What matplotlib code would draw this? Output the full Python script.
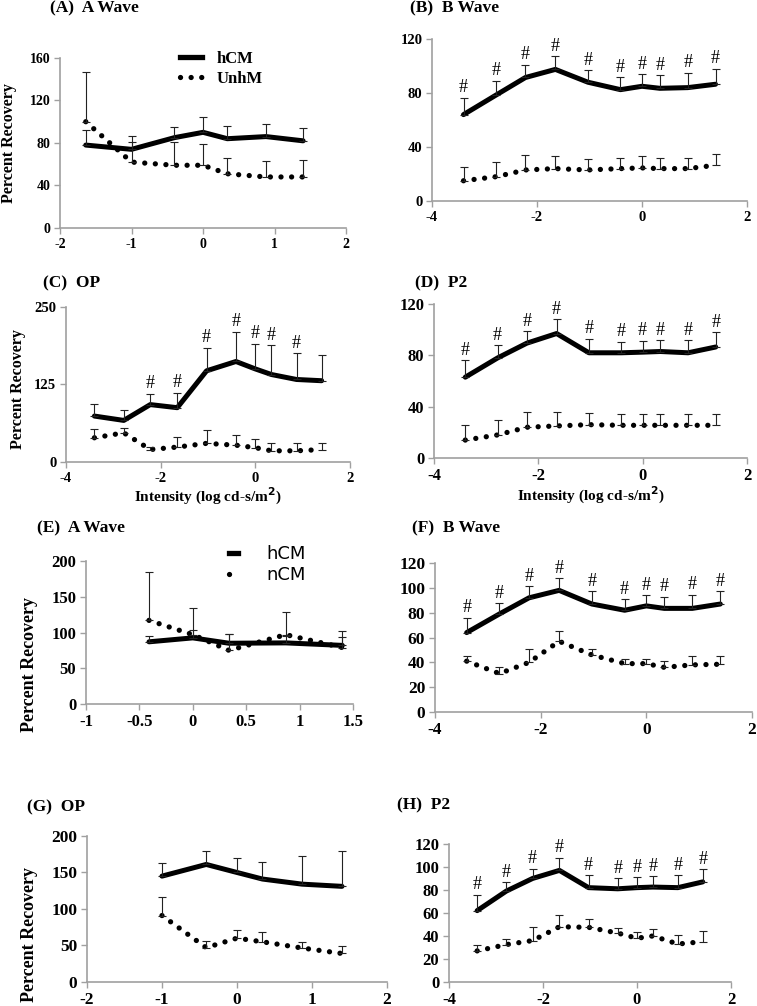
import numpy as np
import matplotlib
matplotlib.use('Agg')
import matplotlib.pyplot as plt
from matplotlib.lines import Line2D

plt.rcParams['font.family'] = 'Liberation Serif'
plt.rcParams['font.weight'] = 'bold'

# ---- data ----
# x positions (log cd-s/m^2)
x_full = [-3.4, -2.78, -2.22, -1.65, -1.03, -0.41, 0.0, 0.34, 0.87, 1.4]
x_short = [-0.41, 0.0, 0.34, 0.87, 1.4]
x_a = [-1.64, -1.0, -0.4, 0.0, 0.34, 0.88, 1.4]
x_g = [-1.0, -0.41, 0.0, 0.34, 0.87, 1.4]

# (A) A Wave, hCM vs UnhM
a_hcm = [78, 74, 85, 90, 84, 86, 82]
a_hcm_top = [92, 87, 95, 104, 96, 98, 94]
a_unhm = [100, 62, 59, 59, 51, 48, 48]
a_unhm_top = [147, 81, 81, 79, 66, 63, 64]

# (B) B Wave
b_hcm = [64, 78.5, 91.5, 97.5, 88, 82.5, 85, 83.5, 84, 86.5]
b_hcm_top = [76.5, 89, 101, 107.5, 97, 91.5, 94, 93, 95, 98]
b_unhm = [15, 18, 23, 24, 23, 24, 24.5, 24, 24, 26.5]
b_unhm_top = [25, 29, 34, 33, 31, 32, 33, 32, 32, 35]

# (C) OP
c_hcm = [74, 67, 92.5, 87.5, 147, 162, 150, 141, 133, 131]
c_hcm_top = [93, 84, 110, 112, 184, 210, 191, 188, 175, 173]
c_unhm = [39, 47, 20, 24, 30, 27, 23, 18, 18, 20]
c_unhm_top = [53, 54, 24, 40, 51, 44, 37, 31, 31, 31]

# (D) P2
d_hcm = [63, 78, 89.5, 97, 82, 82, 82.5, 83, 82, 86.5]
d_hcm_top = [76, 88, 99, 108, 93, 90.5, 91.5, 92, 92, 98]
d_unhm = [14, 18, 24, 25, 26, 25.5, 25.5, 25.5, 25.5, 25.5]
d_unhm_top = [25.5, 30, 36, 35.5, 35, 34.5, 34.5, 34.5, 34, 34]

# (E) A Wave, hCM vs nCM
e_hcm = [87, 92.5, 85, 85.5, 82]
e_hcm_top = [95, 103, 98, 95, 94]
e_ncm = [117, 97, 75, 97, 79]
e_ncm_top = [185, 134, 98, 129, 102]

# (F) B Wave
f_hcm = [64, 79, 92, 98, 87, 82, 85.5, 83.5, 83.5, 87]
f_hcm_top = [76, 87.5, 101.5, 108, 97.5, 91, 94, 93, 94.5, 97.5]
f_ncm = [41, 31, 40, 57, 46, 39, 39, 36, 38, 38.5]
f_ncm_top = [45, 36, 51, 65.5, 51, 43, 43, 41, 45, 45]

# (G) OP
g_hcm = [145, 161, 150, 141, 134, 131]
g_hcm_top = [163, 180, 170, 165, 172, 179]
g_ncm = [91, 47, 60, 55, 46.5, 39]
g_ncm_top = [116, 56.5, 71.5, 69, 54.5, 49]

# (H) P2
h_hcm = [62, 79, 90, 97, 82, 81, 82, 82.5, 82, 87]
h_hcm_top = [76, 87, 98.5, 108, 93, 90, 91, 92, 93, 98]
h_ncm = [27, 32.5, 36, 48, 47.5, 42.5, 38, 40, 33, 35]
h_ncm_top = [32, 37, 48, 58.5, 55, 46.5, 43, 46, 40.5, 44]

W, H = 757, 1006
fig = plt.figure(figsize=(W / 100, H / 100), dpi=100)

DOT = (0, (0.01, 2.0))


def panel(rect, x, hcm, hcm_top, other, other_top, xlim, xticks, ylim, yticks,
          hashes=None, tick_fs=10):
    ax = fig.add_axes(rect)
    ax.plot(x, other, color='black', lw=3.8, linestyle=DOT, dash_capstyle='round')
    ax.plot(x, hcm, color='black', lw=3.6, solid_capstyle='round', solid_joinstyle='round')
    for y, top in [(hcm, hcm_top), (other, other_top)]:
        y = np.array(y)
        up = np.array(top) - y
        ax.errorbar(x, y, yerr=[np.zeros_like(up), up], fmt='none', ecolor='#222222',
                    elinewidth=0.8, capsize=3, capthick=0.8)
    if hashes is not None:
        for i in hashes:
            ax.annotate('#', (x[i], hcm_top[i]), xytext=(0, 1), textcoords='offset points',
                        ha='center', va='bottom', fontsize=13, fontweight='normal')
    ax.set_xlim(*xlim)
    ax.set_ylim(*ylim)
    ax.set_xticks(xticks)
    ax.set_yticks(yticks)
    ax.set_xticklabels([('%g' % t) for t in xticks])
    for s in ['top', 'right']:
        ax.spines[s].set_visible(False)
    for s in ['left', 'bottom']:
        ax.spines[s].set_color('#a0a0a0')
        ax.spines[s].set_linewidth(1.2)
    ax.tick_params(length=4, width=1, color='#a0a0a0', labelsize=tick_fs, pad=3)
    ax.set_facecolor('none')
    return ax


all_idx = list(range(10))

axA = panel([0.0793, 0.7734, 0.3778, 0.169], x_a, a_hcm, a_hcm_top, a_unhm, a_unhm_top,
            (-2, 2), [-2, -1, 0, 1, 2], (0, 160), [0, 40, 80, 120, 160], tick_fs=10)
axB = panel([0.5707, 0.8002, 0.4161, 0.161], x_full, b_hcm, b_hcm_top, b_unhm, b_unhm_top,
            (-4, 2), [-4, -2, 0, 2], (0, 120), [0, 40, 80, 120], hashes=all_idx, tick_fs=10.5)
axC = panel([0.0872, 0.5408, 0.3752, 0.1541], x_full, c_hcm, c_hcm_top, c_unhm, c_unhm_top,
            (-4, 2), [-4, -2, 0, 2], (0, 250), [0, 125, 250], hashes=[2, 3, 4, 5, 6, 7, 8],
            tick_fs=10.5)
axD = panel([0.5733, 0.5447, 0.4135, 0.1531], x_full, d_hcm, d_hcm_top, d_unhm, d_unhm_top,
            (-4, 2), [-4, -2, 0, 2], (0, 120), [0, 40, 80, 120], hashes=all_idx, tick_fs=12)
axE = panel([0.1136, 0.3002, 0.3527, 0.1421], x_short, e_hcm, e_hcm_top, e_ncm, e_ncm_top,
            (-1, 1.5), [-1, -0.5, 0, 0.5, 1, 1.5], (0, 200), [0, 50, 100, 150, 200], tick_fs=12)
axF = panel([0.5746, 0.2922, 0.4188, 0.1481], x_full, f_hcm, f_hcm_top, f_ncm, f_ncm_top,
            (-4, 2), [-4, -2, 0, 2], (0, 120), [0, 20, 40, 60, 80, 100, 120],
            hashes=all_idx, tick_fs=12.5)
axG = panel([0.1149, 0.0239, 0.3963, 0.1451], x_g, g_hcm, g_hcm_top, g_ncm, g_ncm_top,
            (-2, 2), [-2, -1, 0, 1, 2], (0, 200), [0, 50, 100, 150, 200], tick_fs=12.5)
axH = panel([0.5931, 0.0239, 0.3725, 0.1372], x_full, h_hcm, h_hcm_top, h_ncm, h_ncm_top,
            (-4, 2), [-4, -2, 0, 2], (0, 120), [0, 20, 40, 60, 80, 100, 120],
            hashes=all_idx, tick_fs=12)

# titles
titles = [('(A)  A Wave', 50, 8), ('(B)  B Wave', 410, 8), ('(C)  OP', 43, 283),
          ('(D)  P2', 415, 283), ('(E)  A Wave', 37, 528), ('(F)  B Wave', 412, 528),
          ('(G)  OP', 27, 807), ('(H)  P2', 397, 805)]
for t, px, py in titles:
    fig.text(px / W, 1 - py / H, t, ha='left', va='center', fontsize=12.5, fontweight='bold')

# y labels
for px, py, fs in [(9, 143, 11.5), (18, 389, 11.5), (29, 665, 13), (29, 935, 13)]:
    fig.text(px / W, 1 - py / H, 'Percent Recovery', rotation=90, ha='center', va='center',
             fontsize=fs, fontweight='bold')

for ax in [axC, axD]:
    ax.set_xlabel('Intensity (log cd-s/m$^\\mathbf{2}$)', fontsize=11, fontweight='bold', labelpad=1)

# legends
hA = [Line2D([], [], color='black', lw=3.8),
      Line2D([], [], color='black', lw=3.8, linestyle=DOT, dash_capstyle='round')]
axA.legend(hA, ['hCM', 'UnhM'], loc='center left', bbox_to_anchor=(0.39, 0.935), frameon=False,
           prop={'family': 'Liberation Serif', 'weight': 'bold', 'size': 12},
           handlelength=1.3, labelspacing=0.25, handletextpad=0.9, borderpad=0)
hE = [Line2D([], [], color='black', lw=3.8),
      Line2D([], [], color='black', lw=3.8, linestyle=DOT, dash_capstyle='round')]
axE.legend(hE, ['hCM', 'nCM'], loc='center left', bbox_to_anchor=(0.5, 0.975), frameon=False,
           prop={'family': 'DejaVu Sans', 'weight': 'normal', 'size': 13},
           handlelength=0.5, labelspacing=0.15, handletextpad=1.6, borderpad=0)

fig.savefig('out.png', dpi=100)
